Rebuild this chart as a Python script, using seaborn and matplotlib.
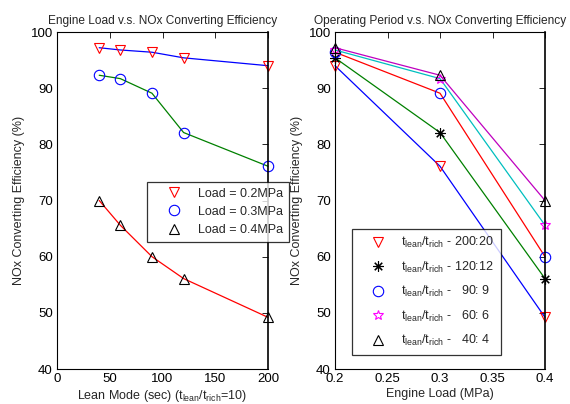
import matplotlib
matplotlib.use("Agg")
import matplotlib.pyplot as plt
from matplotlib.lines import Line2D
import seaborn as sns
import pandas as pd

# Lean-mode period (s) and measured NOx conversion efficiency (%) per engine load
lean_mode = [40, 60, 90, 120, 200]
eff_load_02 = [97.2, 96.8, 96.4, 95.4, 94.0]
eff_load_03 = [92.3, 91.7, 89.1, 82.1, 76.1]
eff_load_04 = [70.0, 65.6, 60.0, 56.1, 49.2]
load_labels = ["Load = 0.2MPa", "Load = 0.3MPa", "Load = 0.4MPa"]

# Engine load (MPa) and efficiency per lean/rich operating period
engine_load = [0.2, 0.3, 0.4]
eff_200_20 = [94.0, 76.1, 49.2]
eff_120_12 = [95.4, 82.1, 56.1]
eff_90_9 = [96.4, 89.1, 60.0]
eff_60_6 = [96.8, 91.7, 65.6]
eff_40_4 = [97.2, 92.3, 70.0]
period_labels = [r"$t_{lean}/t_{rich}$ - 200:20",
                 r"$t_{lean}/t_{rich}$ - 120:12",
                 r"$t_{lean}/t_{rich}$ -   90: 9",
                 r"$t_{lean}/t_{rich}$ -   60: 6",
                 r"$t_{lean}/t_{rich}$ -   40: 4"]

sns.set_theme(style="white")
plt.rcParams["font.family"] = ["Liberation Sans", "DejaVu Sans"]
plt.rcParams["mathtext.default"] = "regular"
plt.rcParams["font.size"] = 9

FS = 9
MS = 7.5

fig = plt.figure(figsize=(5.70, 4.04), dpi=100)
W, H = 570, 404
ax1 = fig.add_axes([57 / W, 1 - 369 / H, (268 - 57) / W, (369 - 32) / H])
ax2 = fig.add_axes([335 / W, 1 - 369 / H, (545 - 335) / W, (369 - 32) / H])

# line colour, marker, marker colour
left_styles = [("#0000ff", "v", "#ff0000"),
               ("#008000", "o", "#0000ff"),
               ("#ff0000", "^", "#000000")]
left_data = pd.DataFrame({"lean": lean_mode * 3,
                          "eff": eff_load_02 + eff_load_03 + eff_load_04,
                          "series": sum([[l] * len(lean_mode) for l in load_labels], [])})

for lab, (lc, mk, mc) in zip(load_labels, left_styles):
    d = left_data[left_data["series"] == lab]
    sns.lineplot(data=d, x="lean", y="eff", ax=ax1, color=lc, linewidth=0.9,
                 marker=mk, markersize=MS, markerfacecolor="none",
                 markeredgecolor=mc, markeredgewidth=0.8, legend=False,
                 clip_on=False)

right_series = [eff_200_20, eff_120_12, eff_90_9, eff_60_6, eff_40_4]
right_styles = [("#0000ff", "v", "#ff0000"),
                ("#008000", (8, 2, 0), "#000000"),
                ("#ff0000", "o", "#0000ff"),
                ("#00bfbf", "*", "#ff00ff"),
                ("#bf00bf", "^", "#000000")]
right_data = pd.DataFrame({"load": engine_load * 5,
                           "eff": sum(right_series, []),
                           "series": sum([[l] * len(engine_load) for l in period_labels], [])})

for lab, (lc, mk, mc) in zip(period_labels, right_styles):
    d = right_data[right_data["series"] == lab]
    sns.lineplot(data=d, x="load", y="eff", ax=ax2, color=lc, linewidth=0.9,
                 marker=mk, markersize=MS, markerfacecolor="none",
                 markeredgecolor=mc, markeredgewidth=0.8, legend=False,
                 clip_on=False)

for ax in (ax1, ax2):
    ax.set_ylim(40, 100)
    ax.set_yticks(range(40, 101, 10))
    ax.tick_params(direction="in", length=4, width=0.6, top=True, right=True,
                   labelsize=9.5, pad=3, colors="black")
    for s in ax.spines.values():
        s.set_color("black")
        s.set_linewidth(0.8)
    ax.spines["right"].set_linewidth(1.2)
    ax.set_ylabel("NOx Converting Efficiency (%)", fontsize=FS, labelpad=4)
    ax.grid(False)

ax1.set_xlim(0, 200)
ax1.set_xticks(range(0, 201, 50))
ax1.set_xlabel(r"Lean Mode (sec) ($t_{lean}/t_{rich}$=10)", fontsize=FS, labelpad=2)
ax1.set_title("Engine Load v.s. NOx Converting Efficiency", fontsize=8.6, pad=6)

ax2.set_xlim(0.2, 0.4)
ax2.set_xticks([0.2, 0.25, 0.3, 0.35, 0.4])
ax2.set_xticklabels(["0.2", "0.25", "0.3", "0.35", "0.4"])
ax2.set_xlabel("Engine Load (MPa)", fontsize=FS, labelpad=2)
ax2.set_title("Operating Period v.s. NOx Converting Efficiency", fontsize=8.6, pad=6)

def marker_handles(styles):
    return [Line2D([], [], linestyle="none", marker=mk, markersize=MS,
                   markerfacecolor="none", markeredgecolor=mc, markeredgewidth=0.8)
            for _, mk, mc in styles]

leg1 = ax1.legend(marker_handles(left_styles), load_labels, loc="upper left",
                  bbox_to_anchor=(147 / W, 1 - 182 / H), bbox_transform=fig.transFigure,
                  fontsize=FS, frameon=True, fancybox=False, borderpad=0.45,
                  labelspacing=0.5, handletextpad=0.25, handlelength=3.4,
                  borderaxespad=0)
leg1.get_frame().set_edgecolor("black")
leg1.get_frame().set_linewidth(0.9)

leg2 = ax2.legend(marker_handles(right_styles), period_labels, loc="upper left",
                  bbox_to_anchor=(352 / W, 1 - 229 / H), bbox_transform=fig.transFigure,
                  fontsize=FS, frameon=True, fancybox=False, borderpad=0.5,
                  labelspacing=0.75, handletextpad=0.25, handlelength=3.2,
                  borderaxespad=0)
leg2.get_frame().set_edgecolor("black")
leg2.get_frame().set_linewidth(0.9)

fig.savefig("out.png", dpi=100, facecolor="white")
